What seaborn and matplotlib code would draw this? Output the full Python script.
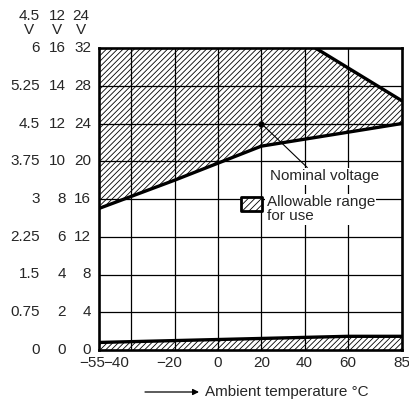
import matplotlib
matplotlib.use("Agg")
import matplotlib.pyplot as plt
import matplotlib.transforms as mtransforms
import numpy as np
import pandas as pd
import seaborn as sns

# Temperature axis (°C)
temp_ticks = [-55, -40, -20, 0, 20, 40, 60, 85]
temp_labels = ["\u221255", "\u221240", "\u221220", "0", "20", "40", "60", "85"]

# Voltage scales for the three rated voltages (rows share one grid)
v45_labels = ["0", "0.75", "1.5", "2.25", "3", "3.75", "4.5", "5.25", "6"]
v12_labels = ["0", "2", "4", "6", "8", "10", "12", "14", "16"]
v24_labels = ["0", "4", "8", "12", "16", "20", "24", "28", "32"]
v24_ticks = [0, 4, 8, 12, 16, 20, 24, 28, 32]

# Lower limit of the allowable range (24 V scale)
lower_temp = [-55, -20, 20, 85]
lower_volt = [15.0, 18.0, 21.6, 24.0]

# Upper limit of the allowable range (24 V scale)
upper_temp = [-55, 45, 85]
upper_volt = [32.0, 32.0, 26.4]

# Release band near zero (24 V scale)
band_temp = [-55, 60, 85]
band_volt = [0.8, 1.45, 1.45]

# Nominal operating point
nominal_temp = 20
nominal_volt = 24

FS = 11
HATCH = "//////"

sns.set_style("white")
plt.rcParams["font.family"] = ["Liberation Sans", "DejaVu Sans"]
plt.rcParams["hatch.linewidth"] = 0.6
plt.rcParams["hatch.color"] = "black"

fig = plt.figure(figsize=(4.10, 4.01), dpi=100)
ax = fig.add_axes([99 / 410, 1 - 350 / 401, 303 / 410, 302 / 401])

ax.set_xlim(-55, 85)
ax.set_ylim(0, 32)

# grid
for t in temp_ticks[1:-1]:
    ax.axvline(t, color="black", lw=0.9, zorder=1)
for v in v24_ticks[1:-1]:
    ax.axhline(v, color="black", lw=0.9, zorder=1)

# hatched allowable region (upper)
poly_x = lower_temp + upper_temp[::-1]
poly_y = lower_volt + upper_volt[::-1]
ax.fill(poly_x, poly_y, facecolor="none", edgecolor="black", hatch=HATCH,
        linewidth=0, zorder=2)

# hatched band near zero
ax.fill_between(band_temp, 0, band_volt, facecolor="none", edgecolor="black",
                hatch=HATCH, linewidth=0, zorder=2)

lines = {
    "lower": (lower_temp, lower_volt),
    "upper": (upper_temp[1:], upper_volt[1:]),
    "band": (band_temp, band_volt),
}
for name, (xs, ys) in lines.items():
    df = pd.DataFrame({"temp": xs, "volt": ys})
    sns.lineplot(data=df, x="temp", y="volt", sort=False, color="black",
                 lw=2.4, ax=ax, zorder=4)

# nominal point
sns.scatterplot(x=[nominal_temp], y=[nominal_volt], color="black", s=18,
                ax=ax, zorder=5, edgecolor="black")

ax.annotate("Nominal voltage", xy=(nominal_temp, nominal_volt),
            xytext=(0.563, 0.576), textcoords="axes fraction",
            fontsize=FS, ha="left", va="center", zorder=6,
            bbox=dict(boxstyle="square,pad=0.1", fc="white", ec="none"),
            arrowprops=dict(arrowstyle="-", lw=0.8, color="black",
                            shrinkA=0, shrinkB=0, relpos=(0.36, 1.0)))

# legend swatch placed in data units: white base, hatch, frame
sw_t = [10.4, 20.5]
sw_lo, sw_hi = 14.75, 16.2
ax.fill_between(sw_t, sw_lo, sw_hi, facecolor="white", edgecolor="none",
                linewidth=0, zorder=6)
ax.fill_between(sw_t, sw_lo, sw_hi, facecolor="none", edgecolor="black",
                hatch="/////", linewidth=0, zorder=6.5)
ax.fill_between(sw_t, sw_lo, sw_hi, facecolor="none", edgecolor="black",
                linewidth=2.0, zorder=7)
ax.text(0.553, 0.512, "Allowable range\nfor use", transform=ax.transAxes,
        fontsize=FS, ha="left", va="top", linespacing=1.0, zorder=6,
        bbox=dict(boxstyle="square,pad=0.1", fc="white", ec="none"))

for s in ax.spines.values():
    s.set_linewidth(1.9)
    s.set_color("black")
    s.set_zorder(7)

ax.set_xticks(temp_ticks)
ax.set_xticklabels(temp_labels, fontsize=FS)
ax.tick_params(axis="x", length=0, pad=4)
shifts = {0: -7, 1: -15, 2: -6}
for i, lab in enumerate(ax.get_xticklabels()):
    if i in shifts:
        off = mtransforms.ScaledTranslation(shifts[i] / 100, 0, fig.dpi_scale_trans)
        lab.set_transform(lab.get_transform() + off)

ax.set_yticks(v24_ticks)
ax.set_yticklabels([])
ax.tick_params(axis="y", length=0)
ax.set_xlabel("")
ax.set_ylabel("")

trans = mtransforms.blended_transform_factory(ax.transAxes, ax.transData)
col_right = [(40 - 99) / 302, (66 - 99) / 302, (91 - 99) / 302]
for col, labels in zip(col_right, [v45_labels, v12_labels, v24_labels]):
    for v, lab in zip(v24_ticks, labels):
        ax.text(col, v, lab, transform=trans, ha="right", va="center",
                fontsize=FS, clip_on=False)

headers = ["4.5\nV", "12\nV", "24\nV"]
header_x = [29, 57, 81]
for hx, h in zip(header_x, headers):
    fig.text(hx / 410, 1 - 23 / 401, h, ha="center", va="center",
             fontsize=FS, linespacing=1.05, multialignment="center")

# axis title with arrow
fig.text(205 / 410, 1 - 392 / 401, "Ambient temperature \u00b0C",
         ha="left", va="center", fontsize=FS)
ax.annotate("", xy=(199 / 410, 1 - 392 / 401), xytext=(145 / 410, 1 - 392 / 401),
            xycoords="figure fraction", textcoords="figure fraction",
            arrowprops=dict(arrowstyle="-|>", lw=0.9, color="black",
                            mutation_scale=9, shrinkA=0, shrinkB=0))

fig.savefig("out.png", dpi=100)
